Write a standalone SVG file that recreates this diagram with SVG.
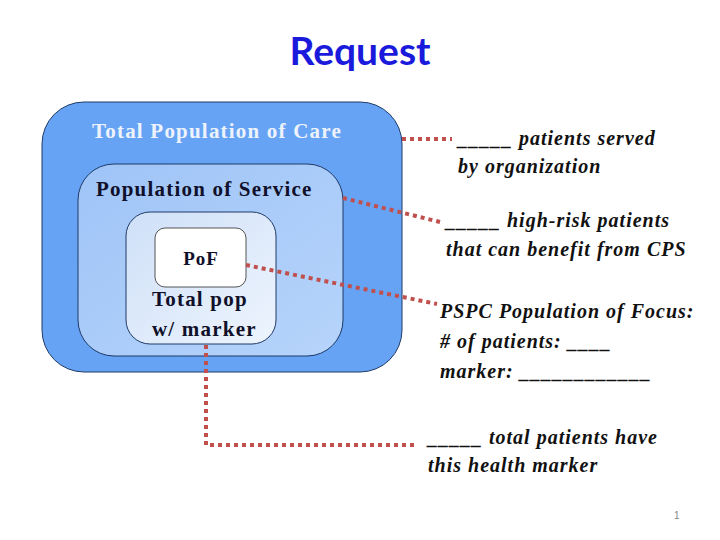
<svg xmlns="http://www.w3.org/2000/svg" width="720" height="540" viewBox="0 0 720 540">
<style>
.lbl{font-family:"Liberation Serif",serif;font-weight:bold;font-size:21px;letter-spacing:1.2px;fill:#10102a}
.note{font-family:"Liberation Serif",serif;font-style:italic;font-weight:bold;font-size:20px;letter-spacing:1px;fill:#111}
.conn{fill:none;stroke:#c0504d;stroke-width:4;stroke-dasharray:4 4}
</style>
<defs>
<linearGradient id="gMid" x1="0" y1="0" x2="1" y2="1">
<stop offset="0" stop-color="#9fc4f7"/><stop offset="1" stop-color="#b6d4fb"/>
</linearGradient>
<linearGradient id="gIn" x1="0" y1="0" x2="1" y2="1">
<stop offset="0" stop-color="#cfe0f8"/><stop offset="1" stop-color="#edf4fd"/>
</linearGradient>
</defs>
<rect width="720" height="540" fill="#fff"/>
<text x="360" y="65" text-anchor="middle" font-family="Lato, 'Open Sans', sans-serif" font-weight="bold" font-size="39" fill="#1a1adc">Request</text>

<g id="care">
<rect x="42" y="102" width="360" height="270" rx="42" fill="#66a3f5" stroke="#1f3a66" stroke-width="1"/>
<text x="92" y="138" class="lbl" style="fill:#eef3fb">Total Population of Care</text>
</g>
<g id="service">
<rect x="78" y="164" width="265" height="192" rx="36" fill="url(#gMid)" stroke="#1f3a66" stroke-width="1"/>
<text x="96" y="196" class="lbl">Population of Service</text>
</g>
<g id="marker">
<rect x="126" y="212" width="150" height="132" rx="24" fill="url(#gIn)" stroke="#1f3a66" stroke-width="1"/>
<text x="152" y="306" class="lbl">Total pop</text>
<text x="152" y="336" class="lbl">w/ marker</text>
</g>
<g id="pof">
<rect x="155" y="228" width="91" height="59" rx="10" fill="#fff" stroke="#555" stroke-width="1"/>
<text x="201" y="265" text-anchor="middle" class="lbl" style="font-size:19px;letter-spacing:1px">PoF</text>
</g>

<g id="connectors">
<path class="conn" d="M402 139 L452 139"/>
<path class="conn" d="M343 198 L440 222"/>
<path class="conn" d="M246 265 L437 304"/>
<path class="conn" d="M206 345 L206 445 L418 445"/>
</g>

<g id="notes">
<text class="note" x="458" y="145">_____ patients served</text>
<text class="note" x="458" y="173">by organization</text>
<text class="note" x="446" y="227">_____ high-risk patients</text>
<text class="note" x="446" y="256">that can benefit from CPS</text>
<text class="note" x="440" y="318">PSPC Population of Focus:</text>
<text class="note" x="440" y="348">#  of patients: ____</text>
<text class="note" x="440" y="378">marker: ____________</text>
<text class="note" x="428" y="444">_____ total patients have</text>
<text class="note" x="428" y="472">this health marker</text>
</g>
<text x="674" y="519" font-family="'Liberation Sans', sans-serif" font-size="10" fill="#888">1</text>
</svg>
